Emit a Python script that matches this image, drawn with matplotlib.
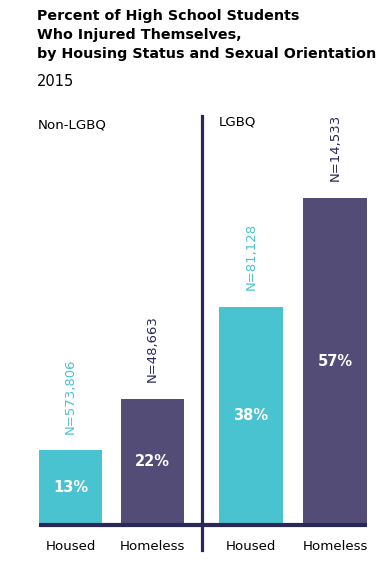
import matplotlib.pyplot as plt
import matplotlib.transforms as mtransforms

# data
groups = ["Non-LGBQ", "LGBQ"]
categories = ["Housed", "Homeless", "Housed", "Homeless"]
percent = [13, 22, 38, 57]
n_labels = ["N=573,806", "N=48,663", "N=81,128", "N=14,533"]

teal = "#4AC3D1"
purple = "#524C77"
navy = "#2A2858"
bar_colors = [teal, purple, teal, purple]
n_colors = [teal, navy, teal, navy]

plt.rcParams["font.family"] = ["DejaVu Sans"]

fig = plt.figure(figsize=(3.86, 5.68), dpi=100)
ax = fig.add_axes([0, 0, 1, 1])
ax.set_xlim(-0.86, 3.848)
ax.set_ylim(-7.49, 91.46)
ax.axis("off")

pos = [0, 1, 2.2, 3.23]
bars = ax.bar(pos, percent, width=0.78, color=bar_colors, zorder=2)

# baseline and divider
ax.hlines(0, pos[0] - 0.39, pos[-1] + 0.39, color=navy, lw=3, zorder=3)
ax.axvline((pos[1] + pos[2]) / 2, ymin=0.032, ymax=0.796, color=navy, lw=2.3)

offset = mtransforms.offset_copy(ax.transData, fig=fig, x=0, y=12, units="points")
for i, x in enumerate(pos):
    v = percent[i]
    ax.text(x, v / 2, f"{v}%", color="white", fontsize=10.5, fontweight="bold",
            ha="center", va="center", zorder=4)
    ax.text(x, v, n_labels[i], color=n_colors[i], fontsize=9.5, rotation=90,
            ha="center", va="bottom", transform=offset)
    ax.text(x, -3.66, categories[i], fontsize=9.6, ha="center", va="center")

fig.text(38 / 386, 1 - 125 / 568, groups[0], fontsize=9.6, va="center")
fig.text(219 / 386, 1 - 122 / 568, groups[1], fontsize=9.6, va="center")

fig.text(37 / 386, 1 - 9 / 568,
         "Percent of High School Students\nWho Injured Themselves,\n"
         "by Housing Status and Sexual Orientation",
         fontsize=10.3, fontweight="bold", va="top", linespacing=1.47)
fig.text(37 / 386, 1 - 81 / 568, "2015", fontsize=10.5, va="center")

fig.savefig("out.png", dpi=100)
